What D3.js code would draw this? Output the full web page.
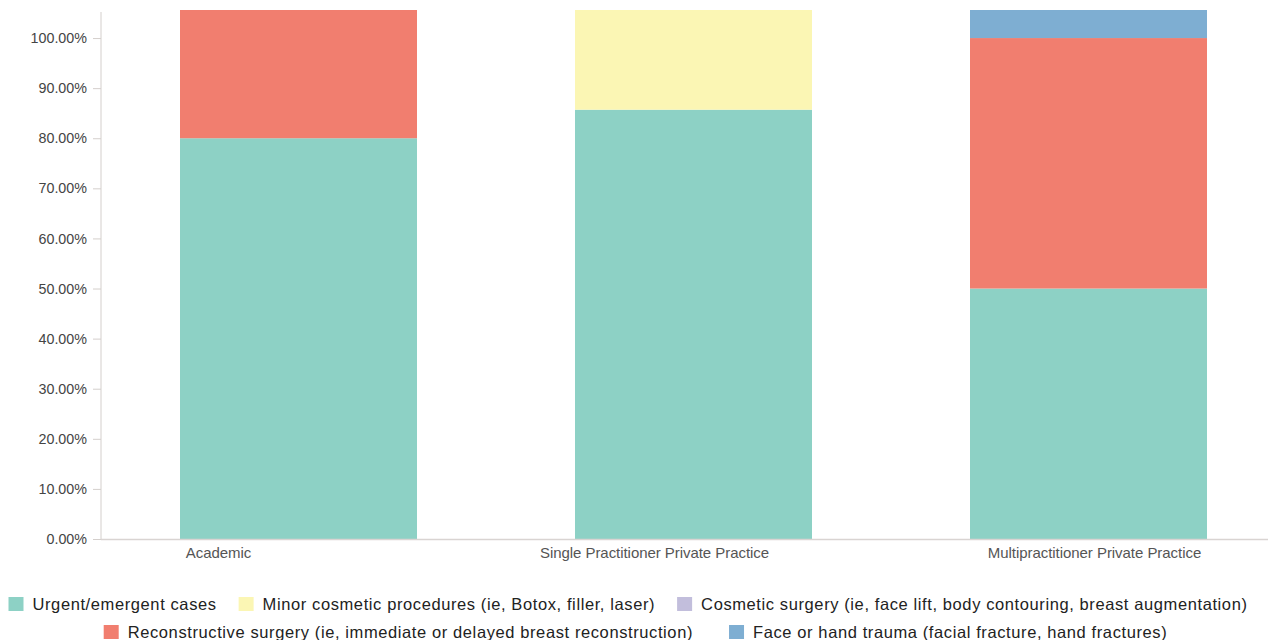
<!DOCTYPE html>
<html>
<head>
<meta charset="utf-8">
<script src="https://cdn.jsdelivr.net/npm/d3@7"></script>
<style>
  html, body { margin: 0; padding: 0; background: #fff; }
  svg { display: block; }
</style>
</head>
<body>
<svg id="chart" width="1268" height="640"></svg>
<script>
// ---- data ----
const categories = ["Academic", "Single Practitioner Private Practice", "Multipractitioner Private Practice"];
const seriesNames = [
  "Urgent/emergent cases",
  "Minor cosmetic procedures (ie, Botox, filler, laser)",
  "Cosmetic surgery (ie, face lift, body contouring, breast augmentation)",
  "Reconstructive surgery (ie, immediate or delayed breast reconstruction)",
  "Face or hand trauma (facial fracture, hand fractures)"
];
const urgent         = [80, 85.7, 50];
const minorCosmetic  = [0, 19.9, 0];
const cosmeticSurg   = [0, 0, 0];
const reconstructive = [25.6, 0, 50];
const trauma         = [0, 0, 5.6];
const yTicks = [0, 10, 20, 30, 40, 50, 60, 70, 80, 90, 100];
const colors = ["#8dd1c5", "#fbf6b4", "#c2bedc", "#f17e6f", "#7eaed2"];

(function () {
// ---- layout ----
const svg = d3.select("#chart");
const plotLeft = 101, plotBottom = 539, plotTop = 10;
const step = 395;
const x = d3.scaleBand().domain(categories).range([plotLeft, plotLeft + step * categories.length]).paddingInner(0.4).paddingOuter(0.2);
const y = d3.scaleLinear().domain([0, 105.6]).range([plotBottom, plotTop]);

const seriesValues = [urgent, minorCosmetic, cosmeticSurg, reconstructive, trauma];
const table = categories.map((c, i) => {
  const row = { cat: c };
  seriesNames.forEach((s, j) => row[s] = seriesValues[j][i]);
  return row;
});
const stack = d3.stack().keys(seriesNames)(table);

// bars
svg.append("g").selectAll("g").data(stack).join("g")
  .attr("fill", (d, i) => colors[i])
  .selectAll("rect").data(d => d).join("rect")
  .attr("x", d => x(d.data.cat))
  .attr("width", x.bandwidth())
  .attr("y", d => y(d[1]))
  .attr("height", d => Math.max(0, y(d[0]) - y(d[1])));

// y axis
const yAxis = svg.append("g").attr("transform", `translate(${plotLeft},0)`)
  .call(d3.axisLeft(y).tickValues(yTicks).tickFormat(d => d.toFixed(2) + "%").tickSize(8).tickPadding(6));
yAxis.select(".domain").attr("stroke", "#d4cfcc").attr("d", `M0,${plotTop + 2}V${plotBottom}`);
yAxis.selectAll(".tick line").attr("stroke", "#d4cfcc");
yAxis.selectAll(".tick text").attr("fill", "#444").style("font-family", "Liberation Sans, Arial, sans-serif").style("font-size", "14.3px");

// x axis line
svg.append("line").attr("x1", plotLeft).attr("x2", 1268).attr("y1", plotBottom + 0.5).attr("y2", plotBottom + 0.5).attr("stroke", "#d9d4d2").attr("stroke-width", 1.5);

// category labels (offset from bar centre as in the original)
const labelDx = [-80, -39, 6];
svg.append("g").selectAll("text").data(categories).join("text")
  .attr("x", (d, i) => x(d) + x.bandwidth() / 2 + labelDx[i])
  .attr("y", plotBottom + 19)
  .attr("text-anchor", "middle")
  .attr("fill", "#555")
  .style("font-family", "Liberation Sans, Arial, sans-serif")
  .style("font-size", "15px")
  .style("letter-spacing", "-0.05px")
  .text(d => d);

// legend
const rows = [[0, 1, 2], [3, 4]];
const rowY = [604, 632];
const rowCenter = [628, 635.5];
const rowGap = [22, 36];
const sw = 15, gapText = 9;
rows.forEach((r, ri) => {
  const g = svg.append("g");
  let cx = 0;
  r.forEach(idx => {
    g.append("rect").attr("x", cx).attr("y", rowY[ri] - 7).attr("width", sw).attr("height", sw - 1).attr("fill", colors[idx]);
    const t = g.append("text").attr("x", cx + sw + gapText).attr("y", rowY[ri] + 6)
      .attr("fill", "#222")
      .style("font-family", "Liberation Sans, Arial, sans-serif")
      .style("font-size", "16.5px")
      .style("letter-spacing", "0.6px")
      .text(seriesNames[idx]);
    cx += sw + gapText + t.node().getComputedTextLength() + rowGap[ri];
  });
  const w = cx - rowGap[ri];
  g.attr("transform", `translate(${(rowCenter[ri] - w / 2).toFixed(1)},0)`);
});
})();
</script>
</body>
</html>
